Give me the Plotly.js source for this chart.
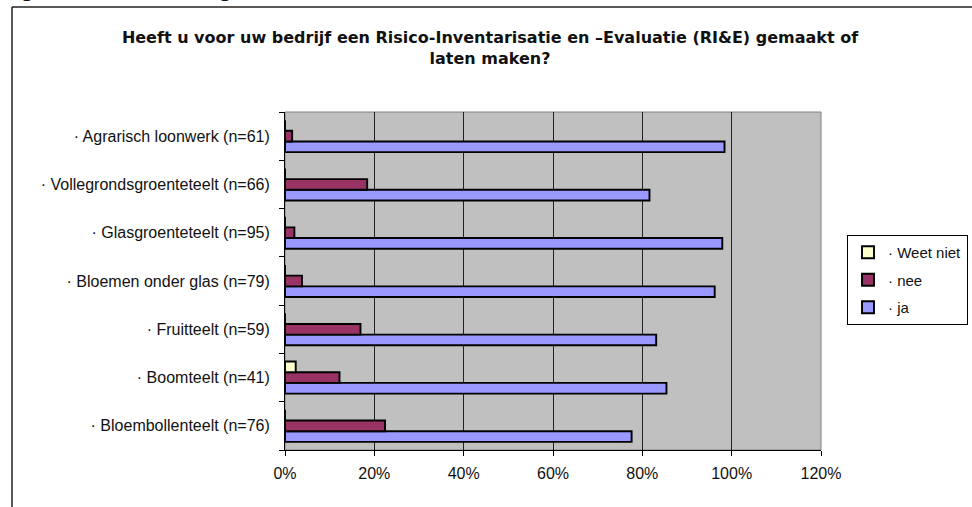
<!DOCTYPE html>
<html>
<head>
<meta charset="utf-8">
<script src="https://cdn.plot.ly/plotly-3.0.1.min.js"></script>
<style>
  html, body { margin: 0; padding: 0; background: #fff; }
  #chart { width: 972px; height: 507px; }
</style>
</head>
<body>
<div id="chart"></div>
<script>
// Categories listed bottom to top
const categories = [
  '· Bloembollenteelt (n=76)',
  '· Boomteelt (n=41)',
  '· Fruitteelt (n=59)',
  '· Bloemen onder glas (n=79)',
  '· Glasgroenteteelt (n=95)',
  '· Vollegrondsgroenteteelt (n=66)',
  '· Agrarisch loonwerk (n=61)'
];
const jaValues       = [77.6, 85.4, 83.1, 96.2, 97.9, 81.6, 98.4];
const neeValues      = [22.4, 12.2, 16.9, 3.8, 2.1, 18.4, 1.6];
const weetNietValues = [0, 2.4, 0, 0, 0, 0, 0];
const seriesNames = ['· ja', '· nee', '· Weet niet'];
const xTickValues = [0, 20, 40, 60, 80, 100, 120];

const L = 285, R = 821, T = 112, B = 450, W = 972, H = 507;
const px2x = p => (p - L) / (R - L);
const py2y = p => (B - p) / (B - T);

const font = 'Liberation Sans, Arial, sans-serif';
const lineStyle = {color: '#000', width: 1.9};

const traces = [
  {name: seriesNames[0], y: categories, x: jaValues, color: '#9999FF', grp: 'a', rank: 3},
  {name: seriesNames[1], y: categories, x: neeValues, color: '#993366', grp: 'b', rank: 2},
  {name: seriesNames[2], y: categories, x: weetNietValues, color: '#FFFFCC', grp: 'c', rank: 1}
].map(t => ({
  type: 'bar', orientation: 'h', name: t.name, x: t.x, y: t.y,
  legendgroup: t.grp, legendrank: t.rank,
  marker: {color: t.color, line: lineStyle},
  hoverinfo: 'x+y+name'
}));

const layout = {
  width: W, height: H,
  margin: {l: L, r: W - R, t: T, b: H - B, pad: 0, autoexpand: false},
  paper_bgcolor: '#ffffff',
  plot_bgcolor: '#C0C0C0',
  barmode: 'group',
  bargap: 0.337,
  bargroupgap: 0,
  font: {family: font, size: 16, color: '#111'},
  title: {
    text: '<b>Heeft u voor uw bedrijf een Risico-Inventarisatie en –Evaluatie (RI&E) gemaakt of<br>laten maken?</b>',
    font: {family: 'DejaVu Sans, Liberation Sans, sans-serif', size: 16, color: '#111'},
    xref: 'container', x: 490 / W, xanchor: 'center',
    yref: 'container', y: 1 - 43 / H, yanchor: 'top'
  },
  xaxis: {
    range: [0, 120],
    tickvals: xTickValues,
    ticktext: xTickValues.map(v => v + '%'),
    showgrid: true, gridcolor: '#222', gridwidth: 1,
    ticks: 'outside', ticklen: 5, tickcolor: '#000', tickwidth: 1,
    showline: true, linecolor: '#000', linewidth: 1,
    zeroline: false,
    ticklabelstandoff: 4,
    tickfont: {family: font, size: 16, color: '#111'},
    fixedrange: true
  },
  yaxis: {
    type: 'category',
    categoryorder: 'array', categoryarray: categories,
    tickson: 'boundaries',
    ticks: 'outside', ticklen: 5, tickcolor: '#000', tickwidth: 1,
    showline: true, linecolor: '#000', linewidth: 1,
    showgrid: false, zeroline: false,
    ticklabelstandoff: 11,
    tickfont: {family: font, size: 16, color: '#111'},
    fixedrange: true
  },
  legend: {
    x: px2x(847), xanchor: 'left',
    y: py2y(235), yanchor: 'top',
    traceorder: 'grouped',
    tracegroupgap: 5,
    bgcolor: '#ffffff',
    bordercolor: '#000', borderwidth: 1,
    font: {family: font, size: 15, color: '#111'},
    itemwidth: 30
  },
  shapes: [
    {type: 'rect', xref: 'paper', yref: 'paper', x0: 0, x1: 1, y0: 0, y1: 1,
     line: {color: '#808080', width: 1}, layer: 'below'},
    {type: 'line', xref: 'paper', yref: 'paper',
     x0: px2x(12), x1: px2x(980), y0: py2y(7), y1: py2y(7),
     line: {color: '#222', width: 1.5}},
    {type: 'line', xref: 'paper', yref: 'paper',
     x0: px2x(12), x1: px2x(12), y0: py2y(7), y1: py2y(515),
     line: {color: '#222', width: 1.5}}
  ],
  annotations: [
    {text: '<i>Figuur 3.6 – Een algemene RI&E</i>', showarrow: false,
     xref: 'paper', yref: 'paper', x: px2x(-2), xanchor: 'left',
     y: py2y(4), yanchor: 'bottom',
     font: {family: font, size: 26, color: '#111'}}
  ],
  showlegend: true
};

Plotly.newPlot('chart', traces, layout, {displayModeBar: false});
</script>
</body>
</html>
